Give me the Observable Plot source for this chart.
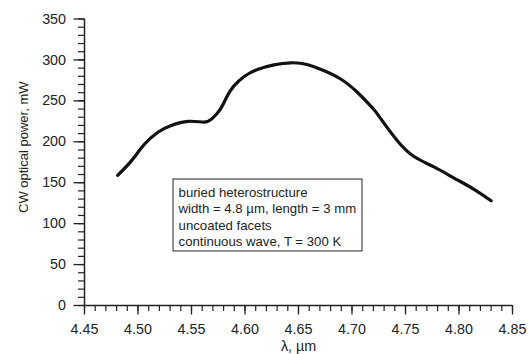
<!DOCTYPE html>
<html>
<head>
<meta charset="utf-8">
<script src="https://cdn.jsdelivr.net/npm/d3@7"></script>
<script src="https://cdn.jsdelivr.net/npm/@observablehq/plot@0.6"></script>
<style>
  html, body { margin: 0; padding: 0; background: #fff; }
  #chart svg { display: block; }
</style>
</head>
<body>
<div id="chart"></div>
<script>
// Wavelength (µm) and CW optical power (mW)
const lambda = [4.481, 4.494, 4.506, 4.519, 4.531, 4.547, 4.5615, 4.569, 4.577, 4.583,
                4.5895, 4.599, 4.611, 4.627, 4.643, 4.658, 4.6735, 4.689, 4.705, 4.720,
                4.727, 4.742, 4.758, 4.777, 4.795, 4.814, 4.830];
const power  = [159, 177, 197, 212, 220, 225, 224, 228, 240, 255,
                268, 279.5, 288, 294, 296.5, 294.5, 287, 277, 260.5, 240,
                228, 202, 182, 169, 156, 142, 128];

const xTicks = [4.45, 4.50, 4.55, 4.60, 4.65, 4.70, 4.75, 4.80, 4.85];
const yTicks = [0, 50, 100, 150, 200, 250, 300, 350];
const xMinor = d3.range(0, 41).map(i => +(4.45 + i * 0.01).toFixed(2));
const yMinor = d3.range(0, 36).map(i => i * 10);

const xLabel = "λ, µm";
const yLabel = "CW optical power, mW";
const noteLines = ["buried heterostructure", "width = 4.8 µm, length = 3 mm", "uncoated facets", "continuous wave, T = 300 K"];
// annotation box extent in data units
const noteBox = {x1: 4.5332, x2: 4.7098, y1: 66, y2: 153.9};
const noteAnchor = {x: 4.5379, y: 147};

const data = lambda.map((x, i) => ({x, y: power[i]}));
const ink = "#222";

const chart = Plot.plot({
  width: 529,
  height: 354,
  marginLeft: 84,
  marginRight: 17,
  marginTop: 18.5,
  marginBottom: 49,
  style: {fontFamily: "'Liberation Sans', Arial, sans-serif", color: ink, background: "#fff"},
  x: {domain: [4.45, 4.85], axis: null},
  y: {domain: [0, 350], axis: null},
  marks: [
    // minor ticks
    Plot.axisX(xMinor, {tickSize: 6, tickFormat: () => "", stroke: ink, strokeWidth: 1.2}),
    Plot.axisY(yMinor, {tickSize: 6, tickFormat: () => "", stroke: ink, strokeWidth: 1.2}),
    // major ticks with labels
    Plot.axisX(xTicks, {tickSize: 9.5, tickPadding: 9, tickFormat: d3.format(".2f"), fontSize: 14.3, stroke: ink, fill: ink, strokeWidth: 1.3, label: null}),
    Plot.axisY(yTicks, {tickSize: 10.5, tickPadding: 8, tickFormat: d3.format("d"), fontSize: 14.3, stroke: ink, fill: ink, strokeWidth: 1.3, label: null}),
    // axis lines
    Plot.ruleY([0], {stroke: ink, strokeWidth: 1.5}),
    Plot.ruleX([4.45], {stroke: ink, strokeWidth: 1.5}),
    // axis titles
    Plot.text([xLabel], {frameAnchor: "bottom", dy: 41, text: d => d, fontSize: 14.3, fill: ink, textAnchor: "middle", lineAnchor: "middle"}),
    Plot.text([yLabel], {frameAnchor: "left", dx: -61, dy: -15, rotate: -90, text: d => d, fontSize: 13, fill: ink, textAnchor: "middle", lineAnchor: "middle"}),
    // data curve
    Plot.line(data, {x: "x", y: "y", curve: "natural", stroke: "#111", strokeWidth: 3.2, strokeLinejoin: "round"}),
    // annotation box
    Plot.rect([noteBox], {x1: "x1", x2: "x2", y1: "y1", y2: "y2", fill: "white", stroke: ink, strokeWidth: 1}),
    Plot.text([noteLines.join("\n")], {x: noteAnchor.x, y: noteAnchor.y, text: d => d, fontSize: 13.2, lineHeight: 1.24, textAnchor: "start", lineAnchor: "top", fill: ink})
  ]
});
document.getElementById("chart").appendChild(chart);
</script>
</body>
</html>
